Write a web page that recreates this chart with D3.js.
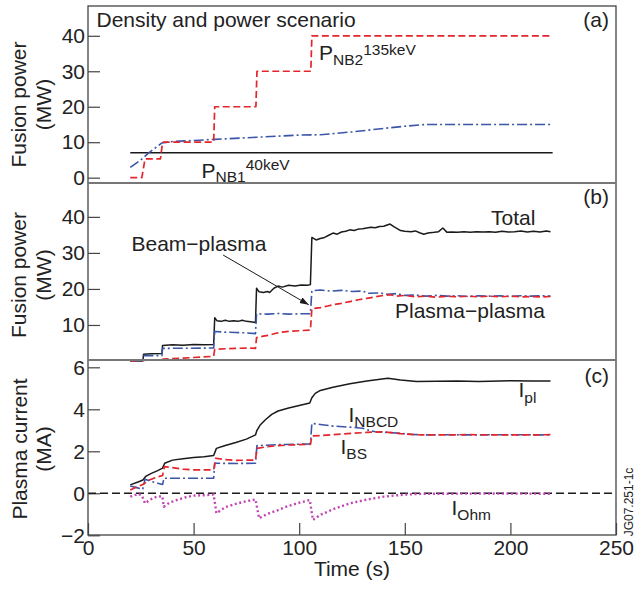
<!DOCTYPE html>
<html><head><meta charset="utf-8">
<script src="https://cdn.jsdelivr.net/npm/d3@7"></script>
<style>
html,body{margin:0;padding:0;background:#fff;}
svg text{font-family:"Liberation Sans",Arial,Helvetica,sans-serif;fill:#222;}
</style></head>
<body><svg id="c" width="635" height="590"></svg>
<script>
// ---------- data (time s, value) ----------
const xTicks = [0, 50, 100, 150, 200, 250];
const aTicks = [0, 10, 20, 30, 40];
const bTicks = [10, 20, 30, 40];
const cTicks = [-2, 0, 2, 4, 6];

// panel (a): NB power
const pNB1 = [[20,7],[220,7]];
const pNB2 = [[20,0],[25.5,0],[27,5.3],[34.3,5.3],[35.3,10],[59.5,10],[60,20],[79.5,20],[80,30],[105.5,30],[106,40],[219,40]];
const pBlueA = [[20,2.9],[24.6,4.8],[28.6,6.9],[31.7,8.3],[35,9.8],[40,10.2],[60,10.8],[80,11.4],[100,12],[110,12.1],[125,12.9],[140,13.9],[150,14.5],[160,15],[220,15]];

// panel (b): fusion power
const total = [[20,0],[26,0],[26.3,1.9],[30,2.0],[35,2.1],[35.3,4.3],[40,4.5],[45,4.4],[50,4.6],[55,4.5],[59.5,4.6],
 [60,12],[61,11.2],[63,11.0],[65,11.3],[67,11.0],[69,11.2],[71,11.0],[73,11.3],[75,11.0],[77,10.9],[79.3,10.7],
 [79.8,20.2],[81,19.2],[83,19.0],[85,19.3],[86,19.0],[88,20.2],[90,20.8],[92,20.5],[95,21.0],[98,20.8],[101,21.1],[104,21.0],[105.3,21.2],
 [106,34.3],[108,33.6],[110,34.0],[112,34.3],[114,34.9],[116,35.5],[118,35.2],[120,35.8],[122,36.0],[124,36.4],[126,36.2],[128,36.6],[130,36.7],[132,36.9],[134,37.1],[136,37.0],[138,37.3],[140,37.4],[143,38.0],[145,37.2],[148,36.2],[150,36.0],[153,35.9],[155,36.1],[157,35.6],[159,35.2],[161,35.5],[164,35.7],[166,35.9],[168,36.9],[170,35.7],[172,35.8],[175,35.7],[178,35.9],[181,35.7],[184,35.9],[187,35.8],[190,35.9],[193,35.7],[196,36.0],[199,35.8],[202,35.9],[205,36.1],[208,35.8],[211,36.0],[214,35.8],[217,36.1],[219,35.9]];
const beamPlasma = [[20,0],[26,0],[26.3,1.5],[35,1.5],[35.3,3.5],[59.5,3.6],[60,8.2],[65,8.0],[70,7.9],[75,7.8],[79.3,7.6],[79.8,13.1],[85,13.0],[90,13.2],[95,13.0],[100,13.1],[105.3,13.1],[106,19.5],[110,19.7],[115,19.4],[120,19.6],[125,19.3],[130,19.4],[133,18.8],[138,18.9],[142,18.5],[146,18.7],[150,18.2],[155,18.3],[160,18.0],[165,18.2],[170,18.0],[175,18.1],[180,17.9],[185,18.1],[190,18.0],[195,18.1],[200,17.9],[205,18.1],[210,18.0],[215,18.1],[219,18.0]];
const plasmaPlasma = [[20,0],[35,0.4],[35.5,0.5],[45,0.8],[59.5,1.3],[60,3.2],[65,3.4],[70,3.5],[75,3.6],[79.3,3.5],[79.8,6.5],[83,6.9],[86,7.2],[89,7.7],[92,8.0],[95,8.2],[100,8.4],[105.3,8.6],[106,14.5],[110,14.8],[113,15.2],[116,15.6],[120,16.0],[124,16.5],[128,17.0],[132,17.4],[136,17.8],[140,18.2],[143,18.4],[146,18.0],[150,18.2],[155,17.8],[160,18.0],[165,17.7],[170,18.0],[175,17.8],[180,18.0],[185,17.8],[190,18.0],[195,17.8],[200,18.0],[205,17.8],[210,17.9],[215,17.8],[219,17.9]];
const arrowFrom = [64, 29.4], arrowTo = [104.5, 15.6];

// panel (c): plasma current
const iPl = [[20,0.4],[24,0.55],[26,0.63],[27.5,0.82],[30,0.95],[33,1.08],[35.3,1.2],[36.3,1.43],[40,1.58],[45,1.65],[50,1.7],[55,1.74],[59.5,1.8],[60.8,2.14],[65,2.28],[70,2.42],[75,2.58],[79.3,2.78],[80,3.0],[81.5,3.25],[84,3.5],[87,3.76],[90,3.92],[95,4.06],[100,4.18],[105,4.3],[106,4.55],[107.6,4.76],[110,4.9],[116,5.05],[124,5.22],[132,5.35],[142,5.48],[148,5.4],[155.6,5.32],[165,5.34],[175,5.35],[185,5.33],[200,5.36],[210,5.35],[219,5.35]];
const iNBCD = [[20,0.35],[23,0.27],[25.9,0.19],[27,0.67],[30,0.56],[33,0.48],[35.3,0.42],[36,0.72],[45,0.72],[59.5,0.72],[60,1.43],[70,1.42],[79.3,1.43],[80,2.27],[90,2.32],[105.3,2.35],[106,3.33],[110,3.28],[116,3.2],[124,3.15],[130,3.1],[133,3.0],[136,2.93],[142,2.9],[148,2.85],[154,2.8],[160,2.78],[170,2.79],[180,2.78],[200,2.79],[219,2.78]];
const iBS = [[20,0.16],[23,0.3],[26,0.42],[29,0.63],[32,0.75],[35.3,0.85],[36.2,1.27],[40,1.22],[45,1.15],[50,1.12],[59.5,1.12],[60.5,1.67],[65,1.6],[70,1.57],[79.3,1.58],[80,2.14],[85,2.22],[90,2.27],[95,2.3],[105.3,2.33],[106,2.73],[110,2.75],[120,2.82],[132,2.9],[140,2.93],[148,2.84],[155,2.79],[165,2.78],[180,2.79],[200,2.78],[219,2.79]];
const iOhm = [[20,-0.16],[23.8,-0.03],[25.5,-0.1],[27,-0.48],[29.5,-0.3],[32.5,-0.16],[35.2,-0.14],[35.9,-0.64],[38.5,-0.45],[42,-0.32],[46,-0.2],[50,-0.11],[55,-0.09],[59.5,-0.06],[60.8,-0.95],[65,-0.66],[70,-0.5],[75,-0.38],[79.3,-0.29],[81,-1.19],[85,-0.98],[90,-0.8],[95,-0.6],[100,-0.45],[105,-0.32],[106.5,-1.27],[110,-1.03],[117,-0.72],[124,-0.48],[132,-0.3],[140,-0.16],[148,-0.08],[155.6,-0.03],[170,-0.02],[190,-0.01],[219,-0.02]];

// ---------- drawing ----------
const RED="#e3262c", BLUE="#3b56a8", MAG="#c245b5", BLK="#1a1a1a";
const svg = d3.select("#c");
const x = d3.scaleLinear([0,250],[88,616]);
const ya = d3.scaleLinear([-1.5,48.4],[183,6]);
const yb = d3.scaleLinear([0,49.4],[361,183]);
const yc = d3.scaleLinear([-1.986,6.348],[535,360]);
const FS = 21, SFS = 15.5;

function yAxis(scale, ticks){
  const g = svg.append("g").attr("transform","translate(88,0)")
    .call(d3.axisLeft(scale).tickValues(ticks).tickSize(-12).tickPadding(3).tickFormat(d => d < 0 ? "\u2212" + Math.abs(d) : d));
  g.select(".domain").remove();
  g.selectAll(".tick line").attr("stroke","#444").attr("stroke-width",1.2);
  g.selectAll(".tick text").style("font-size",FS+"px").attr("fill","#222");
  g.attr("font-family",null).attr("font-size",null);
}
yAxis(ya,aTicks); yAxis(yb,bTicks); yAxis(yc,cTicks);

const gx = svg.append("g").attr("transform","translate(0,535)")
  .call(d3.axisBottom(x).tickValues(xTicks).tickSize(-12).tickPadding(5));
gx.select(".domain").remove();
gx.selectAll(".tick line").attr("stroke","#444").attr("stroke-width",1.2);
gx.selectAll(".tick text").style("font-size",FS+"px").attr("fill","#222");
gx.attr("font-family",null).attr("font-size",null);

function line(data, ys, color, dash, w){
  svg.append("path").datum(data)
    .attr("d", d3.line().x(d=>x(d[0])).y(d=>ys(d[1])))
    .attr("fill","none").attr("stroke",color).attr("stroke-width",w||1.6)
    .attr("stroke-dasharray",dash||null).attr("stroke-linejoin","round");
}
const DASH="7,3.5", DD="10,3,2,3";
// (a)
line(pNB1, ya, BLK, null, 1.5);
line(pBlueA, ya, BLUE, DD, 1.6);
line(pNB2, ya, RED, DASH, 1.7);
// (b)
line(total, yb, BLK, null, 1.5);
line(beamPlasma, yb, BLUE, DD, 1.6);
line(plasmaPlasma, yb, RED, DASH, 1.7);
// (c)
svg.append("line").attr("x1",x(0)).attr("x2",x(250)).attr("y1",yc(0)).attr("y2",yc(0))
  .attr("stroke",BLK).attr("stroke-width",1.5).attr("stroke-dasharray","8,4");
line(iPl, yc, BLK, null, 1.5);
line(iNBCD, yc, BLUE, DD, 1.6);
line(iBS, yc, RED, DASH, 1.7);
line(iOhm, yc, MAG, "2,2.6", 2.4);

// frame and separators
svg.append("rect").attr("x",88).attr("y",6).attr("width",528).attr("height",529)
  .attr("fill","none").attr("stroke","#444").attr("stroke-width",1.3);
[183,360].forEach(v => svg.append("line").attr("x1",88).attr("x2",616).attr("y1",v).attr("y2",v)
  .attr("stroke","#777").attr("stroke-width",1.8));

// arrow
svg.append("defs").append("marker").attr("id","ah").attr("viewBox","0 0 10 10")
  .attr("refX",10).attr("refY",5).attr("markerWidth",9).attr("markerHeight",9).attr("orient","auto")
  .attr("markerUnits","userSpaceOnUse")
  .append("path").attr("d","M0,1.5L10,5L0,8.5Z").attr("fill",BLK);
svg.append("line").attr("x1",x(arrowFrom[0])).attr("y1",yb(arrowFrom[1]))
  .attr("x2",x(arrowTo[0])).attr("y2",yb(arrowTo[1]))
  .attr("stroke",BLK).attr("stroke-width",1).attr("marker-end","url(#ah)");

// text helpers
function txt(x0,y0,parts,anchor){
  const t = svg.append("text").attr("x",x0).attr("y",y0).style("font-size",FS+"px")
    .attr("text-anchor",anchor||"start");
  parts.forEach(p => {
    const s = t.append("tspan").text(p.t);
    if (p.s) s.style("font-size",p.s+"px");
    if (p.dy) s.attr("dy",p.dy);
  });
  return t;
}
function vtxt(x0,y0,s,size){
  svg.append("text").attr("transform",`translate(${x0},${y0}) rotate(-90)`)
    .attr("text-anchor","middle").style("font-size",(size||FS)+"px").text(s);
}
txt(96.5,27,[{t:"Density and power scenario"}]);
txt(609,27,[{t:"(a)"}],"end");
txt(609,204,[{t:"(b)"}],"end");
txt(609,383,[{t:"(c)"}],"end");
txt(319,60,[{t:"P"},{t:"NB2",s:SFS,dy:5},{t:"135keV",s:SFS,dy:-10}]);
txt(201.5,178,[{t:"P"},{t:"NB1",s:SFS,dy:4},{t:"40keV",s:SFS,dy:-12}]);
txt(491,225,[{t:"Total"}]);
txt(395,318,[{t:"Plasma\u2212plasma"}]);
txt(131.5,251,[{t:"Beam\u2212plasma"}]);
txt(518.5,397,[{t:"I"},{t:"pl",s:SFS,dy:6}]);
txt(348.5,422,[{t:"I"},{t:"NBCD",s:SFS,dy:5}]);
txt(340.5,454,[{t:"I"},{t:"BS",s:SFS,dy:5}]);
txt(451.5,515,[{t:"I"},{t:"Ohm",s:SFS,dy:5}]);
txt(352,576,[{t:"Time (s)"}],"middle");
vtxt(26,104.5,"Fusion power"); vtxt(51,104.5,"(MW)");
vtxt(26,275,"Fusion power"); vtxt(51,275,"(MW)");
vtxt(27,449,"Plasma current"); vtxt(51,449,"(MA)");
vtxt(633,502,"JG07.251-1c",12);
</script></body></html>
